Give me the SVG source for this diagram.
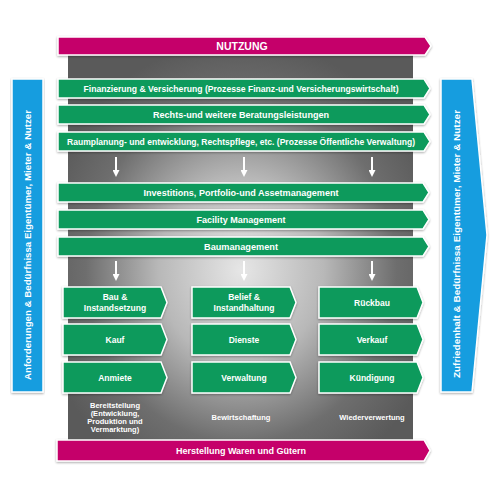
<svg xmlns="http://www.w3.org/2000/svg" width="500" height="500" viewBox="0 0 500 500">
<defs>
<radialGradient id="bg" gradientUnits="userSpaceOnUse" cx="241" cy="270" r="230" gradientTransform="translate(241,270) scale(0.9,1) translate(-241,-270)">
<stop offset="0" stop-color="#e6e6e6"/>
<stop offset="0.4" stop-color="#b8b8b8"/>
<stop offset="0.75" stop-color="#6e6e6e"/>
<stop offset="1" stop-color="#5a5a5a"/>
</radialGradient>
<filter id="sh" x="-5%" y="-20%" width="110%" height="150%">
<feDropShadow dx="0" dy="1" stdDeviation="1" flood-color="#000" flood-opacity="0.35"/>
</filter>
<marker id="ah" markerWidth="7" markerHeight="7" refX="1" refY="3.5" orient="auto" markerUnits="userSpaceOnUse" viewBox="0 0 7 7">
<path d="M0,0 L7,3.5 L0,7 Z" fill="#fff"/>
</marker>
</defs>
<style>
.g{fill:#079a5b;stroke:#fff;stroke-width:1.5;filter:url(#sh)}
.m{fill:#c5006b;stroke:#fff;stroke-width:1.5;filter:url(#sh)}
.b{fill:#159ddf;stroke:#fff;stroke-width:1.5;filter:url(#sh)}
.t{font-family:"Liberation Sans",Arial,sans-serif;font-weight:bold;fill:#fff;text-anchor:middle;font-size:8.5px}
.s{font-family:"Liberation Sans",Arial,sans-serif;font-weight:bold;fill:#fff;text-anchor:middle;font-size:7.5px}
.a{stroke:#fff;stroke-width:2;marker-end:url(#ah)}
</style>
<rect width="500" height="500" fill="#fff"/>
<rect x="68" y="54" width="345" height="386" fill="url(#bg)"/>

<g id="left">
<rect class="b" x="12" y="79" width="31" height="313"/>
<text class="t" transform="translate(31,245) rotate(-90)" textLength="270" lengthAdjust="spacingAndGlyphs">Anforderungen &amp; Bedürfnissa Eigentümer, Mieter &amp; Nutzer</text>
</g>
<g id="right">
<path class="b" d="M441,79 L472,79 L487,235 L472,392 L441,392 Z"/>
<text class="t" transform="translate(460,244) rotate(-90)" textLength="268" lengthAdjust="spacingAndGlyphs">Zufriedenhalt &amp; Bedürfnissa Eigentümer, Mieter &amp; Nutzer</text>
</g>

<g id="nutzung">
<path class="m" d="M58,37 L425,37 L431,46 L425,55 L58,55 Z"/>
<text class="t" x="242" y="50" style="font-size:10.5px">NUTZUNG</text>
</g>

<g id="row1">
<path class="g" d="M58,79 L424,79 L430,88.5 L424,98 L58,98 Z"/>
<text class="t" x="241" y="91.5" textLength="315" lengthAdjust="spacingAndGlyphs">Finanzierung &amp; Versicherung (Prozesse Finanz-und Versicherungswirtschalt)</text>
</g>
<g id="row2">
<path class="g" d="M58,105 L424,105 L430,114.5 L424,124 L58,124 Z"/>
<text class="t" x="241" y="117.5" textLength="176" lengthAdjust="spacingAndGlyphs">Rechts-und weitere Beratungsleistungen</text>
</g>
<g id="row3">
<path class="g" d="M58,132 L424,132 L430,141.5 L424,151 L58,151 Z"/>
<text class="t" x="241" y="144.5" textLength="348" lengthAdjust="spacingAndGlyphs">Raumplanung- und entwicklung, Rechtspflege, etc. (Prozesse Öffentliche Verwaltung)</text>
</g>
<g id="row4">
<path class="g" d="M58,183 L423,183 L429,192.5 L423,202 L58,202 Z"/>
<text class="t" x="241" y="195.5" textLength="195" lengthAdjust="spacingAndGlyphs">Investitions, Portfolio-und Assetmanagement</text>
</g>
<g id="row5">
<path class="g" d="M58,210 L423,210 L429,219.5 L423,229 L58,229 Z"/>
<text class="t" x="241" y="222.5" textLength="89" lengthAdjust="spacingAndGlyphs">Facility Management</text>
</g>
<g id="row6">
<path class="g" d="M58,237 L423,237 L429,246.5 L423,256 L58,256 Z"/>
<text class="t" x="241" y="249.5" textLength="74" lengthAdjust="spacingAndGlyphs">Baumanagement</text>
</g>

<g id="c1r1"><path class="g" d="M63,287 L161,287 L167,302.5 L161,318 L63,318 Z"/>
<text class="t" x="115" y="300">Bau &amp;</text><text class="t" x="115" y="311">Instandsetzung</text></g>
<g id="c2r1"><path class="g" d="M192,287 L290,287 L296,302.5 L290,318 L192,318 Z"/>
<text class="t" x="244" y="300">Belief &amp;</text><text class="t" x="244" y="311">Instandhaltung</text></g>
<g id="c3r1"><path class="g" d="M319,287 L417,287 L423,302.5 L417,318 L319,318 Z"/>
<text class="t" x="372" y="305.5">Rückbau</text></g>

<g id="c1r2"><path class="g" d="M63,324 L161,324 L167,339.5 L161,355 L63,355 Z"/>
<text class="t" x="115" y="342.5">Kauf</text></g>
<g id="c2r2"><path class="g" d="M192,324 L290,324 L296,339.5 L290,355 L192,355 Z"/>
<text class="t" x="244" y="342.5">Dienste</text></g>
<g id="c3r2"><path class="g" d="M319,324 L417,324 L423,339.5 L417,355 L319,355 Z"/>
<text class="t" x="372" y="342.5">Verkauf</text></g>

<g id="c1r3"><path class="g" d="M63,362 L161,362 L167,377.5 L161,393 L63,393 Z"/>
<text class="t" x="115" y="380.5">Anmiete</text></g>
<g id="c2r3"><path class="g" d="M192,362 L290,362 L296,377.5 L290,393 L192,393 Z"/>
<text class="t" x="244" y="380.5">Verwaltung</text></g>
<g id="c3r3"><path class="g" d="M319,362 L417,362 L423,377.5 L417,393 L319,393 Z"/>
<text class="t" x="372" y="380.5">Kündigung</text></g>

<g id="connectors">
<line class="a" x1="116" y1="157" x2="116" y2="171"/>
<line class="a" x1="244" y1="157" x2="244" y2="171"/>
<line class="a" x1="372" y1="157" x2="372" y2="171"/>
<line class="a" x1="116" y1="261" x2="116" y2="275"/>
<line class="a" x1="244" y1="261" x2="244" y2="275"/>
<line class="a" x1="372" y1="261" x2="372" y2="275"/>
</g>

<g id="labels">
<text class="s" x="115" y="408">Bereitstellung</text>
<text class="s" x="115" y="416">(Entwicklung,</text>
<text class="s" x="115" y="424">Produktion und</text>
<text class="s" x="115" y="432">Vermarktung)</text>
<text class="s" x="241" y="420">Bewirtschaftung</text>
<text class="s" x="372" y="420">Wiederverwertung</text>
</g>

<g id="herstellung">
<path class="m" d="M57,440 L424,440 L430,450.5 L424,461 L57,461 Z"/>
<text class="t" x="241" y="454" style="font-size:9px">Herstellung Waren und Gütern</text>
</g>
</svg>
